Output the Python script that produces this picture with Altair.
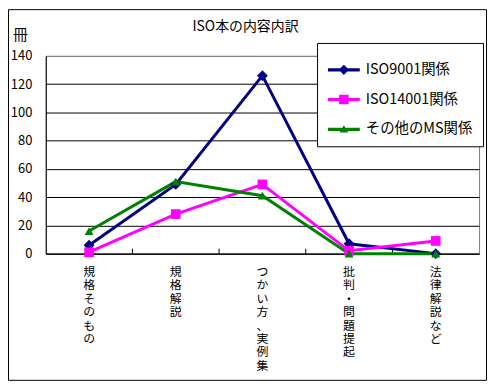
import altair as alt
import pandas as pd

categories = ["規格そのもの", "規格解説", "つかい方、実例集", "批判・問題提起", "法律解説など"]
series_names = ["ISO9001関係", "ISO14001関係", "その他のMS関係"]
iso9001 = [6, 49, 126, 7, 0]
iso14001 = [1, 28, 49, 2, 9]
other_ms = [16, 51, 41, 0, 0]
colors = ["#000080", "#FF00FF", "#008000"]
point_shapes = ["diamond", "square", "triangle-up"]
point_sizes = [120, 95, 80]
legend_shapes = [
    "M-1,-0.1H1V0.1H-1ZM0,-0.32L0.32,0L0,0.32L-0.32,0Z",
    "M-1,-0.1H1V0.1H-1ZM-0.3,-0.3H0.3V0.3H-0.3Z",
    "M-1,-0.1H1V0.1H-1ZM0,-0.26L0.28,0.2H-0.28Z",
]
y_ticks = [0, 20, 40, 60, 80, 100, 120, 140]

rows = []
for name, vals in zip(series_names, [iso9001, iso14001, other_ms]):
    for c, v in zip(categories, vals):
        rows.append({"分類": c, "系列": name, "冊数": v})
df = pd.DataFrame(rows)
tick_df = pd.DataFrame({"分類": categories[:-1]})
frame_df = pd.DataFrame({"k": [0]})

FONT = "Noto Sans CJK JP"

x_axis = alt.Axis(
    title=None,
    labelAngle=0,
    labelAlign="center",
    labelBaseline="top",
    labelExpr="split(datum.label, '')",
    labelLineHeight=13.5,
    labelFontSize=12,
    labelPadding=13,
    labelOverlap=False,
    labelBound=False,
    labelColor="black",
    labelFont=FONT,
    tickSize=0,
    domainColor="black",
    grid=False,
)
y_axis = alt.Axis(
    values=y_ticks,
    title="冊",
    titleAngle=0,
    titleX=-26,
    titleY=-21,
    titleAlign="center",
    titleBaseline="middle",
    titleFontSize=15,
    titleFontWeight="normal",
    titleFont=FONT,
    titleColor="black",
    labelFontSize=13,
    labelFont=FONT,
    labelColor="black",
    labelPadding=14,
    labelOverlap=False,
    labelBound=False,
    labelFlush=False,
    tickSize=0,
    domainColor="black",
    grid=True,
    gridColor=alt.condition("datum.value === 140", alt.value("#808080"), alt.value("black")),
    gridOpacity=1,
)

x_scale = alt.Scale(type="band", domain=categories, paddingInner=0, paddingOuter=0)
y_scale = alt.Scale(domain=[0, 140])


def xe(**kw):
    return alt.X("分類:N", sort=categories, scale=x_scale, axis=x_axis, **kw)


def ye():
    return alt.Y("冊数:Q", scale=y_scale, axis=y_axis)


base = alt.Chart(df)

lines = base.mark_line(strokeWidth=3).encode(
    x=xe(),
    y=ye(),
    stroke=alt.Stroke("系列:N", sort=series_names,
                      scale=alt.Scale(range=colors), legend=None),
    order=alt.Order("系列:N"),
)

point_layers = []
for name, shp, sz in zip(series_names, point_shapes, point_sizes):
    point_layers.append(
        base.transform_filter(alt.datum["系列"] == name)
        .mark_point(filled=True, opacity=1, shape=shp, size=sz)
        .encode(
            x=xe(),
            y=ye(),
            fill=alt.Fill("系列:N", sort=series_names,
                          scale=alt.Scale(range=colors), legend=None),
        )
    )

legend_props = dict(
    orient="none",
    legendX=273,
    legendY=-13,
    title=None,
    strokeColor="black",
    fillColor="white",
    padding=10,
    labelFontSize=14.5,
    labelFont=FONT,
    labelColor="black",
    labelOffset=5,
    labelLimit=0,
    rowPadding=6,
    symbolSize=1024,
)

# legend-only layer: its own marks have size 0 so only the legend shows
legend_layer = base.mark_point(filled=True, opacity=1).encode(
    x=xe(),
    y=ye(),
    size=alt.value(0),
    color=alt.Color("系列:N", sort=series_names,
                    scale=alt.Scale(domain=series_names, range=colors),
                    legend=alt.Legend(**legend_props)),
    shape=alt.Shape("系列:N", sort=series_names,
                    scale=alt.Scale(domain=series_names, range=legend_shapes),
                    legend=alt.Legend(**legend_props)),
)

ticks = alt.Chart(tick_df).mark_rule(color="black", strokeWidth=1).encode(
    x=xe(bandPosition=1),
    y=alt.value(194),
    y2=alt.value(199),
)

frame = alt.Chart(frame_df).mark_rect(
    fillOpacity=0, stroke="black", strokeWidth=1
).encode(
    x=alt.value(-37.5), x2=alt.value(443.5),
    y=alt.value(-46.5), y2=alt.value(326.5),
)

chart = alt.layer(frame, ticks, lines, *point_layers, legend_layer).properties(
    width=436,
    height=199,
    autosize=alt.AutoSizeParams(type="none"),
    padding={"left": 38, "top": 47, "right": 8, "bottom": 129},
    title=alt.TitleParams(
        "ISO本の内容内訳",
        font=FONT,
        fontSize=14,
        fontWeight="normal",
        color="black",
        anchor="middle",
        frame="group",
        baseline="bottom",
        dx=-17,
        offset=-39,
    ),
    background="white",
).configure_view(
    stroke="#808080", strokeWidth=1
)

chart.save("out.html", embed_options={"renderer": "svg", "actions": False})
